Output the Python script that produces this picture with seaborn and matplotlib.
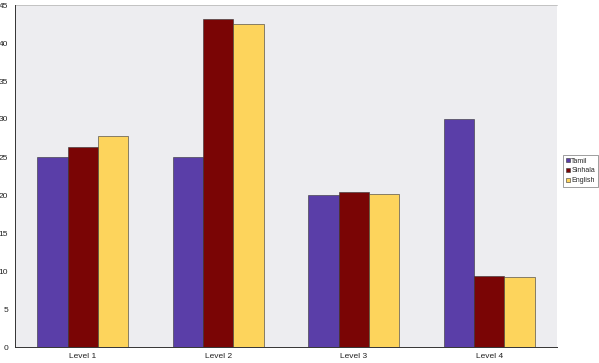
import matplotlib
matplotlib.use("Agg")
import matplotlib.pyplot as plt
import seaborn as sns
import pandas as pd
from matplotlib.ticker import FixedLocator

levels = ["Level 1", "Level 2", "Level 3", "Level 4"]
languages = ["Tamil", "Sinhala", "English"]
tamil = [25.0, 25.0, 20.0, 30.0]
sinhala = [26.3, 43.2, 20.4, 9.3]
english = [27.7, 42.5, 20.1, 9.2]
y_ticks = [0, 5, 10, 15, 20, 25, 30, 35, 40, 45]

colors = ["#5a3ea8", "#7a0505", "#fdd45c"]

rows = []
for lang, vals in zip(languages, [tamil, sinhala, english]):
    for lv, v in zip(levels, vals):
        rows.append({"Level": lv, "Language": lang, "Value": v})
df = pd.DataFrame(rows)

sns.set_theme(style="white")
plt.rcParams["font.family"] = ["Liberation Sans", "DejaVu Sans"]

fig = plt.figure(figsize=(5.99, 3.63), dpi=100)
ax = fig.add_axes([15 / 599, 16 / 363, 542 / 599, 342 / 363])
ax.set_facecolor("#ededf0")

sns.barplot(data=df, x="Level", y="Value", hue="Language", order=levels,
            hue_order=languages, palette=colors, width=0.67, saturation=1,
            edgecolor="#333333", linewidth=0.4, ax=ax, legend=True)

ax.set_xlim(-0.5, 3.5)
ax.set_ylim(0, 45)
ax.set_yticks(y_ticks)
ax.set_yticklabels([str(t) for t in y_ticks], fontsize=6, color="#222222")
ax.set_xticks(range(len(levels)))
ax.set_xticklabels(levels, fontsize=6, color="#222222")
ax.tick_params(axis="x", which="major", length=0, pad=4)
ax.xaxis.set_minor_locator(FixedLocator([0.5, 1.5, 2.5, 3.5]))
ax.tick_params(axis="x", which="minor", length=3, width=0.6, color="#333333", direction="out")
ax.tick_params(axis="y", length=3, width=0.6, color="#333333", direction="out", pad=2)
ax.set_xlabel("")
ax.set_ylabel("")

for side in ["top", "right"]:
    ax.spines[side].set_visible(False)
for side in ["left", "bottom"]:
    ax.spines[side].set_color("#333333")
    ax.spines[side].set_linewidth(0.7)
ax.plot([0, 1], [1, 1], transform=ax.transAxes, color="#bbbbbb", lw=0.6, clip_on=False)

handles, labels = ax.get_legend_handles_labels()
leg = ax.legend(handles, labels, loc="center left", bbox_to_anchor=(563 / 599, 1 - 171 / 363),
                bbox_transform=fig.transFigure, fontsize=5, frameon=True, fancybox=False,
                handlelength=0.6, handleheight=0.6, handletextpad=0.2, borderpad=0.4,
                labelspacing=0.4, edgecolor="#555555", borderaxespad=0)
leg.get_frame().set_linewidth(0.5)

fig.savefig("out.png", dpi=100, facecolor="white")
